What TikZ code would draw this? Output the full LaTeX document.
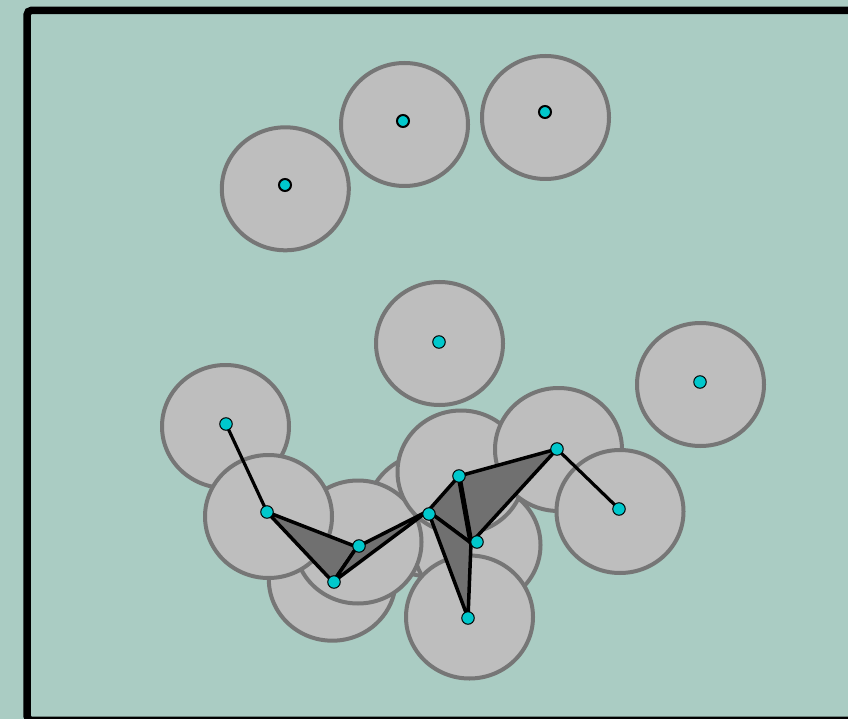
\documentclass[tikz,border=0pt]{standalone}
\definecolor{bgc}{RGB}{170,204,195}
\definecolor{diskfill}{RGB}{190,190,190}
\definecolor{diskline}{RGB}{118,118,118}
\definecolor{trifill}{RGB}{112,112,112}
\definecolor{dotc}{RGB}{0,200,204}
\begin{document}
\begin{tikzpicture}[x=1pt,y=-1pt,
  disk/.style={fill=diskfill,draw=diskline,line width=4pt},
  tri/.style={fill=trifill,draw=black,line width=3.5pt,line join=round},
  edge/.style={draw=black,line width=3.2pt,line cap=round},
  dot/.style={circle,fill=dotc,draw=black,line width=1pt,minimum size=12.5pt,inner sep=0pt},
  topdot/.style={circle,fill=dotc,draw=black,line width=2pt,minimum size=12pt,inner sep=0pt},
  frame/.style={draw=black,line width=7.5pt,rounded corners=4pt}]
\useasboundingbox (0,0) rectangle (848,719);
\clip (0,0) rectangle (848,719);
\fill[bgc] (0,0) rectangle (848,719);
\draw[frame] (880,10.5) -- (27.2,10.5) -- (27.2,720.3) -- (880,720.3);
% disks
\path[disk] (285.3,188.8) ellipse [x radius=63.5pt, y radius=61.5pt];
\path[disk] (404.5,124.5) ellipse [x radius=63.5pt, y radius=61.5pt];
\path[disk] (545.5,117.5) ellipse [x radius=63.5pt, y radius=61.5pt];
\path[disk] (439.5,343.5) ellipse [x radius=63.5pt, y radius=61.5pt];
\path[disk] (700.5,384.5) ellipse [x radius=63.5pt, y radius=61.5pt];
\path[disk] (430,515) ellipse [x radius=63.5pt, y radius=61.5pt];
\path[disk] (477,545) ellipse [x radius=63.5pt, y radius=61.5pt];
\path[disk] (225.5,426.5) ellipse [x radius=63.5pt, y radius=61.5pt];
\path[disk] (332.3,579.2) ellipse [x radius=63.5pt, y radius=61.5pt];
\path[disk] (358,542) ellipse [x radius=63.5pt, y radius=61.5pt];
\path[disk] (268.5,516.5) ellipse [x radius=63.5pt, y radius=61.5pt];
\path[disk] (461,472) ellipse [x radius=63.5pt, y radius=61.5pt];
\path[disk] (558.5,449.5) ellipse [x radius=63.5pt, y radius=61.5pt];
\path[disk] (620,511.5) ellipse [x radius=63.5pt, y radius=61.5pt];
\path[disk] (469.5,617) ellipse [x radius=63.5pt, y radius=61.5pt];
% complex vertices
\coordinate (v1) at (226,424);
\coordinate (v2) at (267,512);
\coordinate (v3) at (357,547);
\coordinate (v4) at (333,582);
\coordinate (v5) at (428,511);
\coordinate (v6) at (459,476);
\coordinate (v7) at (471,543);
\coordinate (v8) at (557,449);
\coordinate (v9) at (619,509);
\coordinate (v10) at (468,618);
% triangles
\path[tri] (v2) -- (v3) -- (v4) -- cycle;
\path[tri] (v3) -- (v4) -- (v5) -- cycle;
\path[tri] (v5) -- (v6) -- (v7) -- cycle;
\path[tri] (v6) -- (v7) -- (v8) -- cycle;
\path[tri] (v5) -- (v7) -- (v10) -- cycle;
% edges
\path[edge] (v1) -- (v2);
\path[edge] (v8) -- (v9);
\path[edge,line width=5pt] (v6) -- (v7);
% dots
\node[topdot] (a1) at (285,185) {};
\node[topdot] (a2) at (403,121) {};
\node[topdot] (a3) at (545,112) {};
\node[dot] (b) at (439,342) {};
\node[dot] (c) at (700,382) {};
\node[dot] (p1) at (226,424) {};
\node[dot] (p2) at (267,512) {};
\node[dot] (p3) at (359,546) {};
\node[dot] (p4) at (334,582) {};
\node[dot] (p5) at (429,514) {};
\node[dot] (p6) at (459,476) {};
\node[dot] (p7) at (477,542) {};
\node[dot] (p8) at (557,449) {};
\node[dot] (p9) at (619,509) {};
\node[dot] (p10) at (468,618) {};
\end{tikzpicture}
\end{document}
